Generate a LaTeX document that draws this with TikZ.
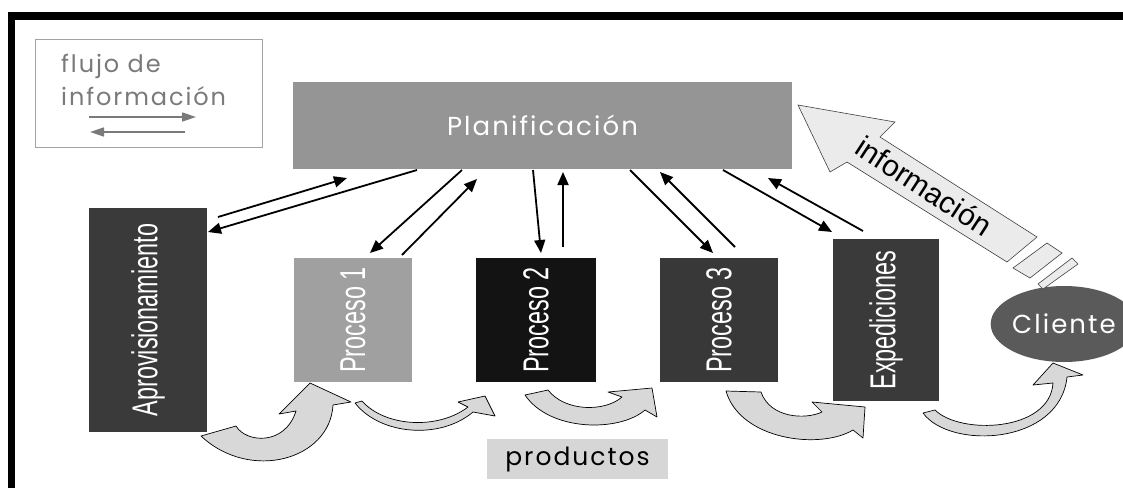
\documentclass[tikz,border=0pt]{standalone}
\usepackage{fontspec}
\setmainfont{Liberation Sans}
\newfontfamily\geo[LetterSpace=8]{Poppins}
\usetikzlibrary{arrows.meta,shapes.geometric}

\definecolor{planc}{HTML}{959595}
\definecolor{aprovc}{HTML}{3A3A3A}
\definecolor{proconec}{HTML}{A0A0A0}
\definecolor{proctwoc}{HTML}{131313}
\definecolor{procthreec}{HTML}{383838}
\definecolor{expedc}{HTML}{3A3A3A}
\definecolor{clientec}{HTML}{5A5A5A}
\definecolor{flowfill}{HTML}{D8D8D8}
\definecolor{infofill}{HTML}{EBEBEB}
\definecolor{prodc}{HTML}{D6D6D6}
\definecolor{legc}{HTML}{7A7A7A}

\tikzset{
  vbox/.style={rectangle, inner sep=0pt, rotate=90, text=white,
    font=\fontsize{36}{40}\selectfont},
  conn/.style={-{Triangle[length=13pt,width=11pt]}, line width=1.8pt, black},
  legarrow/.style={-{Triangle[length=14pt,width=9pt]}, line width=1.6pt, legc},
  flow/.style={fill=flowfill, draw=black, line width=0.7pt, line join=round},
}

\begin{document}
\begin{tikzpicture}[x=1pt,y=-1pt]
\useasboundingbox (0,0) rectangle (1123,488);
\fill[white] (0,0) rectangle (1123,488);

% outer frame (top and left bands)
\fill[black] (8,12) rectangle (1123,20);
\fill[black] (8,12) rectangle (15,488);

% legend
\node[draw=legc!70, line width=0.8pt, minimum width=227pt, minimum height=108pt, inner sep=0pt] (leg) at (148.5,93) {};
\node[anchor=base west, inner sep=0pt, text=legc, font=\geo\fontsize{24}{27}\selectfont] (legt1) at (61,72) {flujo de};
\node[anchor=base west, inner sep=0pt, text=legc, font=\geo\fontsize{24}{27}\selectfont] (legt2) at (61,105) {información};
\coordinate (lr1) at (89,117);
\coordinate (lr2) at (196,117);
\coordinate (ll1) at (185,132);
\coordinate (ll2) at (90,132);
\draw[legarrow] (lr1) -- (lr2);
\draw[legarrow] (ll1) -- (ll2);

% planning block
\node[rectangle, fill=planc, inner sep=0pt, minimum width=499pt, minimum height=87pt,
  text=white, font=\geo\fontsize{26}{30}\selectfont] (plan) at (542.5,125.5) {Planificación};

% process chain
\node[vbox, fill=aprovc, minimum width=224pt, minimum height=118pt] (aprov) at (148,320)
  {\scalebox{0.65}[1]{Aprovisionamiento}};
\node[vbox, fill=proconec, minimum width=124pt, minimum height=118pt] (p1) at (353,320)
  {\scalebox{0.65}[1]{Proceso 1}};
\node[vbox, fill=proctwoc, minimum width=124pt, minimum height=120pt] (p2) at (536,320)
  {\scalebox{0.65}[1]{Proceso 2}};
\node[vbox, fill=procthreec, minimum width=124pt, minimum height=118pt] (p3) at (719,320)
  {\scalebox{0.65}[1]{Proceso 3}};
\node[vbox, fill=expedc, minimum width=162pt, minimum height=106pt] (exped) at (886,320)
  {\scalebox{0.65}[1]{Expediciones}};
\node[ellipse, fill=clientec, inner sep=0pt, minimum width=116pt, minimum height=76pt,
  text=white, font=\geo\fontsize{26}{29}\selectfont] (cliente) at (1064,324) {Cliente};

% information flows between planning and each stage
\coordinate (a1s) at (218,217);  \coordinate (a1e) at (347,178);
\coordinate (a2s) at (417,170);  \coordinate (a2e) at (208,232);
\coordinate (b1s) at (462,170);  \coordinate (b1e) at (370,253);
\coordinate (b2s) at (402,255);  \coordinate (b2e) at (477,179);
\coordinate (c1s) at (533,170);  \coordinate (c1e) at (541,253);
\coordinate (c2s) at (563,247);  \coordinate (c2e) at (563,172);
\coordinate (d1s) at (630,170);  \coordinate (d1e) at (713,253);
\coordinate (d2s) at (735,247);  \coordinate (d2e) at (660,172);
\coordinate (e1s) at (723,170);  \coordinate (e1e) at (832,232);
\coordinate (e2s) at (863,231);  \coordinate (e2e) at (768,178);
\foreach \s/\e in {a1s/a1e,a2s/a2e,b1s/b1e,b2s/b2e,c1s/c1e,c2s/c2e,d1s/d1e,d2s/d2e,e1s/e1e,e2s/e2e}
  \draw[conn] (\s) -- (\e);

% customer information arrow
\filldraw[fill=infofill, draw=black!75, line width=0.6pt, line join=miter]
  (798,105) -- (895,122) -- (880,137) -- (1037,237) -- (1007,262) -- (847,162) -- (830,172) -- cycle;
\filldraw[fill=infofill, draw=black!75, line width=0.6pt]
  (1047,243) -- (1062,253) -- (1030,278) -- (1013,268) -- cycle;
\filldraw[fill=infofill, draw=black!75, line width=0.6pt]
  (1072,258) -- (1078,264) -- (1043,289) -- (1038,284) -- cycle;
\node[rotate=-33, inner sep=0pt, font=\fontsize{30}{32}\selectfont] (infotxt) at (924,186) {información};

% product flow arrows
\filldraw[flow] (201,436) -- (236,426) .. controls (246,443) and (285,446) .. (296,411)
  -- (279,414) -- (310,383) -- (351,402) -- (333,405)
  .. controls (330,460) and (250,482) .. (201,436) -- cycle;
\filldraw[flow] (355,403) .. controls (380,435) and (440,440) .. (473,412)
  -- (495,416) -- (485,396) -- (458,402) -- (468,407)
  .. controls (438,430) and (385,427) .. (362,401) -- cycle;
\filldraw[flow] (525,395) -- (548,390) .. controls (565,412) and (605,412) .. (622,397)
  -- (608,392) -- (652,388) -- (657,417) -- (645,410)
  .. controls (620,432) and (550,432) .. (525,395) -- cycle;
\filldraw[flow] (726,391) -- (761,392) .. controls (770,418) and (805,420) .. (822,412)
  -- (812,402) -- (865,407) -- (863,438) -- (853,430)
  .. controls (820,450) and (740,440) .. (726,391) -- cycle;
\filldraw[flow] (923,413) .. controls (950,450) and (1060,445) .. (1067,377)
  -- (1083,375) -- (1053,363) -- (1033,385) -- (1053,383)
  .. controls (1050,432) and (960,435) .. (935,410) -- cycle;

\node[rectangle, fill=prodc, inner sep=0pt, minimum width=181pt, minimum height=40pt,
  font=\geo\fontsize{25}{28}\selectfont] (prod) at (577.5,459) {productos};
\end{tikzpicture}
\end{document}
